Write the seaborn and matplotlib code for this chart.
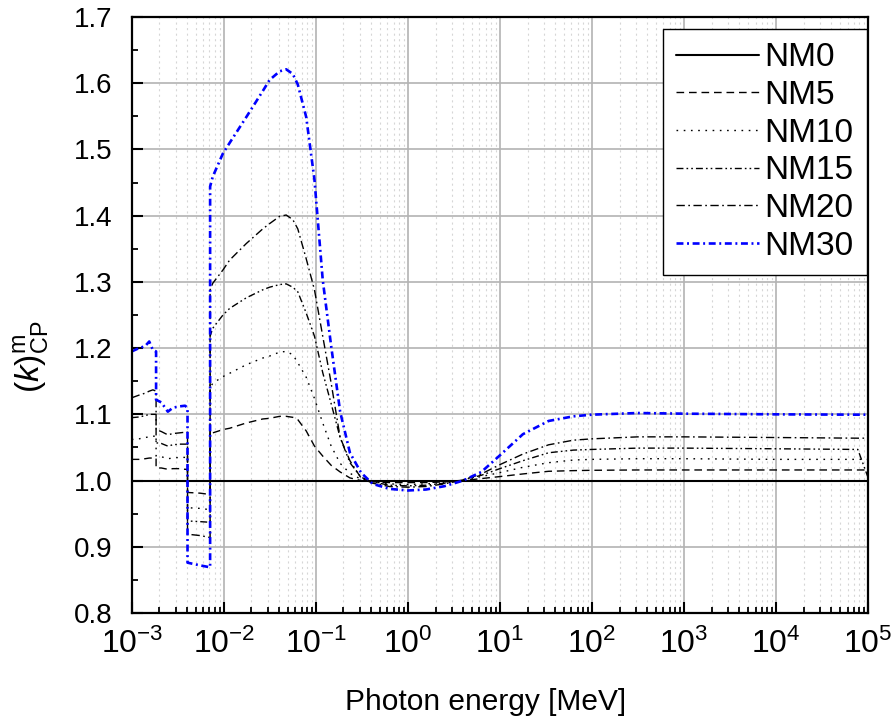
import matplotlib
matplotlib.use("Agg")
import matplotlib.pyplot as plt
import seaborn as sns
import numpy as np
from matplotlib.ticker import LogLocator, MultipleLocator, NullFormatter, FormatStrFormatter

# Photon energy grid [MeV] (edges repeated for vertical jumps)
energy = [1.0e-3, 1.2e-3, 1.4e-3, 1.55e-3, 1.7e-3, 1.84e-3, 1.84e-3, 2.1e-3, 2.47e-3,
          2.8e-3, 3.3e-3, 3.8e-3, 4.04e-3, 4.04e-3, 5.5e-3, 7.11e-3, 7.11e-3, 7.6e-3,
          9.8e-3, 0.0116, 0.0176, 0.0265, 0.0315, 0.0405, 0.0477, 0.0563, 0.0638,
          0.0787, 0.0968, 0.119, 0.147, 0.184, 0.235, 0.310, 0.415, 0.63, 1.0, 1.58,
          2.5, 4.0, 6.3, 10.0, 17.8, 33.9, 63.0, 100.0, 316.0, 1000.0, 1.0e4, 7.76e4, 1.0e5]

nm0_energy = [1.0e-3, 1.0e5]
nm0 = [1.0, 1.0]

nm5 = [1.032, 1.032, 1.033, 1.034, 1.034, 1.034, 1.019, 1.019, 1.017,
       1.018, 1.018, 1.017, 1.017, 0.982, 0.981, 0.979, 1.069, 1.072,
       1.077, 1.079, 1.087, 1.093, 1.094, 1.097, 1.097, 1.0955, 1.092,
       1.075, 1.052, 1.037, 1.023, 1.013, 1.004, 1.000, 0.998, 0.997, 0.997, 0.997,
       0.998, 1.000, 1.003, 1.006, 1.010, 1.014, 1.015, 1.0155, 1.016, 1.016, 1.016, 1.016, 1.016]

nm10 = [1.062, 1.063, 1.065, 1.066, 1.067, 1.067, 1.037, 1.036, 1.033,
        1.034, 1.035, 1.035, 1.035, 0.959, 0.958, 0.956, 1.140, 1.147,
        1.157, 1.162, 1.175, 1.185, 1.188, 1.194, 1.195, 1.190, 1.178,
        1.156, 1.124, 1.087, 1.052, 1.026, 1.011, 1.002, 0.998, 0.995, 0.994, 0.995,
        0.997, 1.001, 1.006, 1.012, 1.020, 1.027, 1.031, 1.032, 1.033, 1.033, 1.032, 1.032, 1.032]

nm15 = [1.095, 1.096, 1.098, 1.100, 1.100, 1.100, 1.057, 1.056, 1.052,
        1.054, 1.055, 1.055, 1.055, 0.939, 0.938, 0.937, 1.218, 1.230,
        1.250, 1.260, 1.276, 1.288, 1.292, 1.296, 1.297, 1.292, 1.285,
        1.253, 1.218, 1.163, 1.116, 1.065, 1.027, 1.005, 0.998, 0.993, 0.992, 0.993,
        0.996, 1.001, 1.008, 1.018, 1.030, 1.042, 1.046, 1.047, 1.049, 1.049, 1.048, 1.047, 1.005]

nm20 = [1.125, 1.129, 1.132, 1.135, 1.137, 1.135, 1.077, 1.074, 1.069,
        1.071, 1.072, 1.073, 1.073, 0.919, 0.917, 0.914, 1.288, 1.298,
        1.318, 1.333, 1.358, 1.380, 1.388, 1.399, 1.401, 1.394, 1.380,
        1.335, 1.288, 1.218, 1.147, 1.065, 1.030, 1.004, 0.996, 0.991, 0.990, 0.991,
        0.995, 1.001, 1.010, 1.024, 1.040, 1.054, 1.061, 1.063, 1.066, 1.066, 1.065, 1.064, 1.064]

nm30 = [1.195, 1.200, 1.203, 1.210, 1.197, 1.195, 1.122, 1.118, 1.104,
        1.110, 1.112, 1.113, 1.110, 0.876, 0.872, 0.869, 1.444, 1.459,
        1.494, 1.510, 1.549, 1.588, 1.605, 1.618, 1.621, 1.614, 1.598,
        1.549, 1.454, 1.303, 1.203, 1.104, 1.042, 1.012, 0.995, 0.9875, 0.985, 0.9865,
        0.9915, 1.000, 1.013, 1.038, 1.070, 1.090, 1.097, 1.0995, 1.102, 1.101, 1.100, 1.0995, 1.0995]

series_names = ["NM0", "NM5", "NM10", "NM15", "NM20", "NM30"]
x_tick_values = [1e-3, 1e-2, 1e-1, 1e0, 1e1, 1e2, 1e3, 1e4, 1e5]

sns.set_style("ticks")
plt.rcParams["font.family"] = ["Liberation Sans", "DejaVu Sans"]
plt.rcParams["mathtext.fontset"] = "custom"
plt.rcParams["mathtext.rm"] = "Liberation Sans"
plt.rcParams["mathtext.it"] = "Liberation Sans:italic"
plt.rcParams["mathtext.default"] = "regular"
plt.rcParams["lines.scale_dashes"] = False
for key in ["text.color", "axes.labelcolor", "xtick.color", "ytick.color", "axes.edgecolor"]:
    plt.rcParams[key] = "black"

fig = plt.figure(figsize=(8.96, 7.27), dpi=100)
ax = fig.add_axes([0.147, 0.1568, 0.8217, 0.8198])
ax.set_xscale("log")

styles = {
    "NM0": dict(color="black", lw=1.5, ls="-"),
    "NM5": dict(color="black", lw=1.0, ls=(0, (5.5, 3.5))),
    "NM10": dict(color="black", lw=1.0, ls=(0, (1.2, 4.0))),
    "NM15": dict(color="black", lw=1.0, ls=(0, (5.0, 2.2, 1.2, 2.2, 1.2, 2.2))),
    "NM20": dict(color="black", lw=1.0, ls=(0, (6.0, 2.5, 1.2, 2.5))),
    "NM30": dict(color="#0000ff", lw=1.9, ls=(0, (5.0, 2.6, 1.4, 2.6))),
}
data = {"NM0": (nm0_energy, nm0), "NM5": (energy, nm5), "NM10": (energy, nm10),
        "NM15": (energy, nm15), "NM20": (energy, nm20), "NM30": (energy, nm30)}

for name in series_names:
    xs, ys = data[name]
    st = styles[name]
    sns.lineplot(x=xs, y=ys, ax=ax, label=name, estimator=None, sort=False,
                 color=st["color"], linewidth=st["lw"], linestyle=st["ls"])

ax.set_xlim(1e-3, 1e5)
ax.set_ylim(0.8, 1.7)
ax.set_xticks(x_tick_values)
ax.xaxis.set_minor_locator(LogLocator(base=10, subs=np.arange(2, 10), numticks=100))
ax.xaxis.set_minor_formatter(NullFormatter())
ax.yaxis.set_major_locator(MultipleLocator(0.1))
ax.yaxis.set_minor_locator(MultipleLocator(0.05))
ax.yaxis.set_major_formatter(FormatStrFormatter("%.1f"))

ax.set_axisbelow(True)
ax.grid(which="major", color="#b3b3b3", lw=1.2, ls="-")
ax.grid(which="minor", axis="x", color="#d6d6d6", lw=0.8, ls=(0, (1.5, 2.5)))

for sp in ax.spines.values():
    sp.set_visible(True)
    sp.set_color("black")
    sp.set_linewidth(1.6)

ax.tick_params(which="major", direction="in", length=8, width=1.5, top=False, right=False)
ax.tick_params(which="minor", direction="in", length=4.5, width=1.3, top=False, right=False)
ax.tick_params(axis="x", which="major", labelsize=23, pad=11)
ax.tick_params(axis="y", which="major", labelsize=20, pad=14)

ax.set_xlabel("Photon energy [MeV]", fontsize=21.5, labelpad=18)
ax.xaxis.set_label_coords(0.48, -0.125)
ax.set_ylabel(r"$(\mathit{k})^{\mathrm{m}}_{\mathrm{CP}}$", fontsize=24)
ax.yaxis.set_label_coords(-0.11, 0.43)

leg = ax.legend(loc="upper right", bbox_to_anchor=(0.9986, 0.98), frameon=True,
                fancybox=False, edgecolor="black", framealpha=1, fontsize=24,
                handlelength=2.5, handletextpad=0.15, labelspacing=0.2,
                borderaxespad=0.0, borderpad=0.4)
leg.get_frame().set_linewidth(1.0)

fig.savefig("out.png", dpi=100)
